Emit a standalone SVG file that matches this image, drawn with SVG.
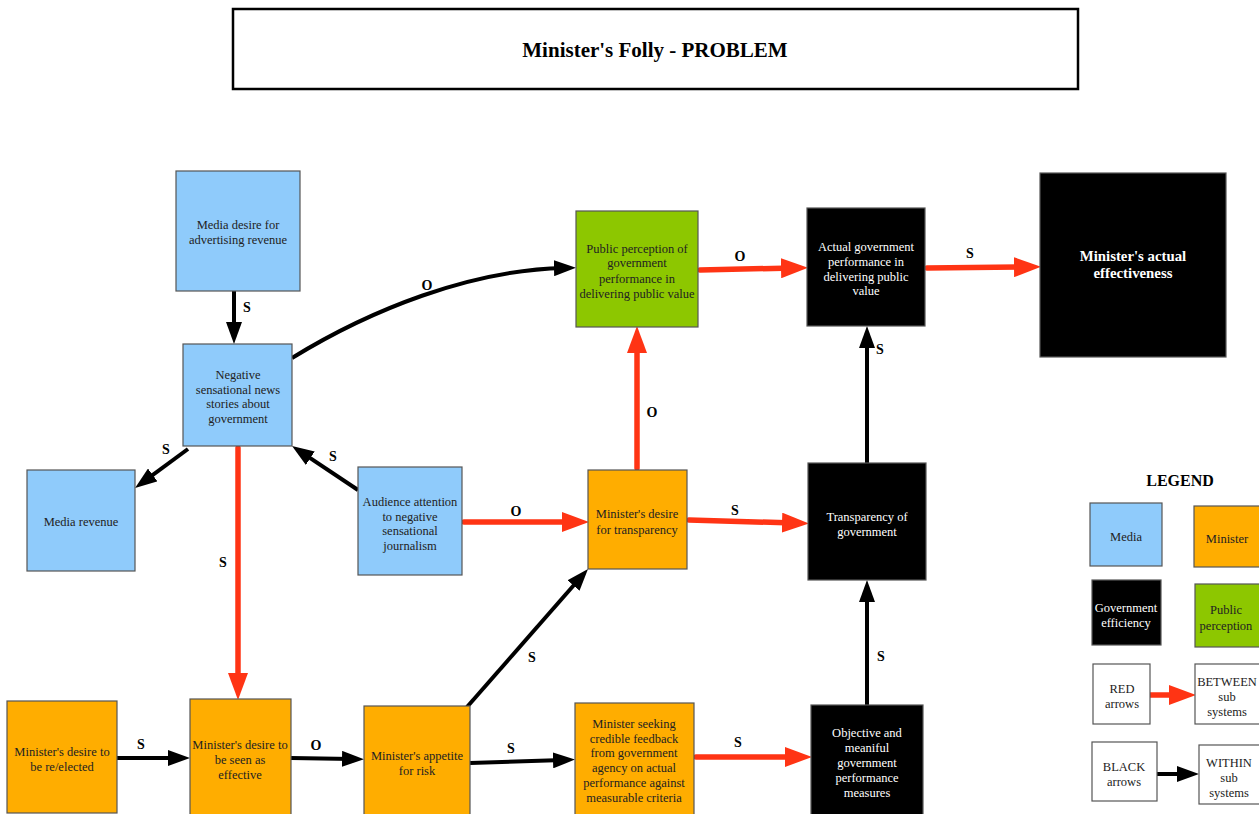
<svg xmlns="http://www.w3.org/2000/svg" width="1259" height="814" viewBox="0 0 1259 814">
<defs>
<style>
.n rect{stroke:#555;stroke-width:1.2}
.blue rect{fill:#8fcbfb}
.org rect{fill:#ffad00}
.grn rect{fill:#8dc700}
.blk rect{fill:#000}
.wht rect{fill:#fff}
text{font-family:"Liberation Serif","Times New Roman",serif;font-size:12.5px;text-anchor:middle;fill:#222}
.blk text{fill:#fff}
.lbl{font-weight:bold;font-size:14px;fill:#000}
.bk{stroke:#000;stroke-width:4;fill:none;marker-end:url(#ab)}
.rd{stroke:#ff3414;stroke-width:5.5;fill:none;stroke-linecap:round;marker-end:url(#ar)}
</style>
<marker id="ab" markerUnits="userSpaceOnUse" markerWidth="22" markerHeight="16" refX="10" refY="8" orient="auto"><path d="M0,0 L22,8 L0,16 z" fill="#000"/></marker>
<marker id="ar" markerUnits="userSpaceOnUse" markerWidth="27" markerHeight="20" refX="12" refY="10" orient="auto"><path d="M0,0 L27,10 L0,20 z" fill="#ff3414"/></marker>
</defs>
<rect width="1259" height="814" fill="#fff"/>
<g id="title"><rect x="233" y="9" width="845" height="80" fill="#fff" stroke="#000" stroke-width="2.5"/><text x="655" y="57" style="font-size:21px;font-weight:bold;fill:#000">Minister's Folly - PROBLEM</text></g>

<g id="connectors">
<line class="bk" x1="234" y1="291" x2="234" y2="332"/>
<path class="bk" d="M292,358 C370,310 470,270 564,268"/>
<line class="bk" x1="188" y1="449" x2="144.7" y2="480.9"/>
<line class="bk" x1="358" y1="490" x2="302" y2="452.7"/>
<line class="rd" x1="238" y1="448" x2="238" y2="685"/>
<line class="rd" x1="464" y1="522" x2="574" y2="522"/>
<line class="rd" x1="637" y1="468" x2="637" y2="341"/>
<line class="rd" x1="700" y1="270" x2="793" y2="268"/>
<line class="rd" x1="927" y1="268" x2="1026" y2="267"/>
<line class="rd" x1="689" y1="520" x2="794" y2="523"/>
<line class="bk" x1="867" y1="463" x2="867" y2="338"/>
<line class="bk" x1="867" y1="705" x2="867" y2="592"/>
<line class="bk" x1="117" y1="758" x2="178" y2="758"/>
<line class="bk" x1="291" y1="758" x2="352" y2="759"/>
<line class="bk" x1="470" y1="763" x2="563" y2="760"/>
<line class="bk" x1="467" y1="707" x2="580.1" y2="578"/>
<line class="rd" x1="696" y1="757" x2="797" y2="757"/>
<line class="rd" x1="1150" y1="695" x2="1181" y2="695"/>
<line class="bk" x1="1157" y1="774" x2="1187" y2="774"/>
<text class="lbl" x="247" y="312">S</text>
<text class="lbl" x="427" y="290">O</text>
<text class="lbl" x="166" y="454">S</text>
<text class="lbl" x="333" y="461">S</text>
<text class="lbl" x="223" y="567">S</text>
<text class="lbl" x="516" y="516">O</text>
<text class="lbl" x="652" y="417">O</text>
<text class="lbl" x="740" y="261">O</text>
<text class="lbl" x="970" y="258">S</text>
<text class="lbl" x="735" y="515">S</text>
<text class="lbl" x="880" y="354">S</text>
<text class="lbl" x="881" y="661">S</text>
<text class="lbl" x="141" y="749">S</text>
<text class="lbl" x="316" y="750">O</text>
<text class="lbl" x="511" y="753">S</text>
<text class="lbl" x="532" y="662">S</text>
<text class="lbl" x="738" y="747">S</text>
</g>

<g id="media-desire" class="n blue"><rect x="176" y="171" width="124" height="120"/><text x="238" y="229">Media desire for</text><text x="238" y="244">advertising revenue</text></g>
<g id="negative-news" class="n blue"><rect x="183" y="344" width="109" height="102"/><text x="238" y="379">Negative</text><text x="238" y="394">sensational news</text><text x="238" y="408">stories about</text><text x="238" y="423">government</text></g>
<g id="media-revenue" class="n blue"><rect x="27" y="470" width="108" height="101"/><text x="81" y="526">Media revenue</text></g>
<g id="audience" class="n blue"><rect x="358" y="467" width="104" height="108"/><text x="410" y="506">Audience attention</text><text x="410" y="521">to negative</text><text x="410" y="535">sensational</text><text x="410" y="550">journalism</text></g>
<g id="public-perception" class="n grn"><rect x="576" y="211" width="122" height="116"/><text x="637" y="253">Public perception of</text><text x="637" y="267">government</text><text x="637" y="283">performance in</text><text x="637" y="298">delivering public value</text></g>
<g id="actual-performance" class="n blk"><rect x="807" y="208" width="118" height="118"/><text x="866" y="251">Actual government</text><text x="866" y="266">performance in</text><text x="866" y="281">delivering public</text><text x="866" y="295">value</text></g>
<g id="actual-effectiveness" class="n blk"><rect x="1040" y="173" width="186" height="184"/><text x="1133" y="261" style="font-weight:bold;font-size:14.8px">Minister's actual</text><text x="1133" y="278" style="font-weight:bold;font-size:14.8px">effectiveness</text></g>
<g id="desire-transparency" class="n org"><rect x="588" y="470" width="99" height="99"/><text x="637" y="518">Minister's desire</text><text x="637" y="534">for transparency</text></g>
<g id="transparency" class="n blk"><rect x="808" y="463" width="118" height="117"/><text x="867" y="521">Transparency of</text><text x="867" y="536">government</text></g>
<g id="reelected" class="n org"><rect x="7" y="701" width="110" height="112"/><text x="62" y="756">Minister's desire to</text><text x="62" y="771">be re/elected</text></g>
<g id="seen-effective" class="n org"><rect x="190" y="699" width="101" height="116"/><text x="240" y="749">Minister's desire to</text><text x="240" y="764">be seen as</text><text x="240" y="779">effective</text></g>
<g id="appetite" class="n org"><rect x="364" y="706" width="106" height="110"/><text x="417" y="760">Minister's appetite</text><text x="417" y="775">for risk</text></g>
<g id="seeking-feedback" class="n org"><rect x="575" y="703" width="119" height="112"/><text x="634" y="728">Minister seeking</text><text x="634" y="743">credible feedback</text><text x="634" y="757">from government</text><text x="634" y="772">agency on actual</text><text x="634" y="787">performance against</text><text x="634" y="802">measurable criteria</text></g>
<g id="objective-measures" class="n blk"><rect x="811" y="705" width="112" height="112"/><text x="867" y="737">Objective and</text><text x="867" y="752">meaniful</text><text x="867" y="767">government</text><text x="867" y="782">performance</text><text x="867" y="797">measures</text></g>

<g id="legend">
<text x="1180" y="486" style="font-weight:bold;font-size:16px;fill:#000">LEGEND</text>
<g id="lg-media" class="n blue"><rect x="1090" y="503" width="72" height="63"/><text x="1126" y="541">Media</text></g>
<g id="lg-minister" class="n org"><rect x="1194" y="506" width="66" height="61"/><text x="1227" y="543">Minister</text></g>
<g id="lg-gov" class="n blk"><rect x="1092" y="580" width="69" height="65"/><text x="1126" y="612">Government</text><text x="1126" y="627">efficiency</text></g>
<g id="lg-public" class="n grn"><rect x="1195" y="584" width="65" height="63"/><text x="1226" y="614">Public</text><text x="1226" y="630">perception</text></g>
<g id="lg-red" class="n wht"><rect x="1093" y="664" width="57" height="60"/><text x="1122" y="693">RED</text><text x="1122" y="708">arrows</text></g>
<g id="lg-between" class="n wht"><rect x="1195" y="664" width="65" height="60"/><text x="1227" y="686">BETWEEN</text><text x="1227" y="701">sub</text><text x="1227" y="716">systems</text></g>
<g id="lg-black" class="n wht"><rect x="1092" y="742" width="65" height="59"/><text x="1124" y="771">BLACK</text><text x="1124" y="786">arrows</text></g>
<g id="lg-within" class="n wht"><rect x="1199" y="745" width="61" height="59"/><text x="1229" y="767">WITHIN</text><text x="1229" y="782">sub</text><text x="1229" y="797">systems</text></g>
</g>
</svg>
